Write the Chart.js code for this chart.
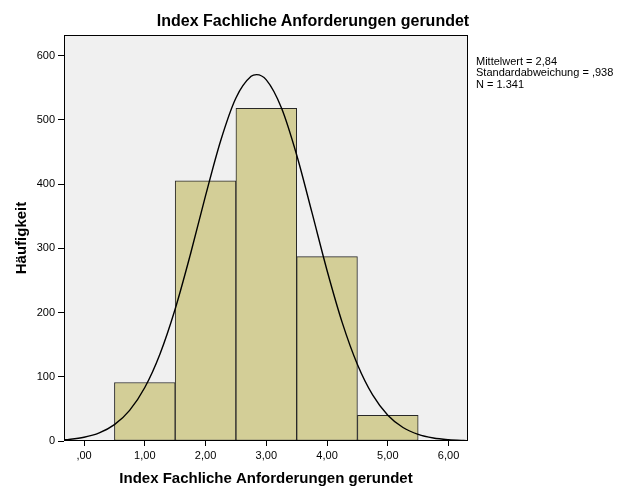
<!DOCTYPE html>
<html>
<head>
<meta charset="utf-8">
<script src="https://cdn.jsdelivr.net/npm/chart.js@4.4.1/dist/chart.umd.min.js"></script>
<style>
  html, body { margin: 0; padding: 0; background: #ffffff; }
  #wrap { position: relative; width: 626px; height: 501px; }
  #title { position: absolute; left: 0; top: 11px; width: 626px; text-align: center; font-family: 'Liberation Sans', Arial, sans-serif; font-size: 16px; font-weight: bold; line-height: 19px; color: #000; white-space: nowrap; }
  #stats { position: absolute; left: 476px; top: 56px; font-family: 'Liberation Sans', Arial, sans-serif; font-size: 11px; line-height: 11.4px; color: #000; white-space: nowrap; }
</style>
</head>
<body>
<div id="wrap">
  <canvas id="c" width="626" height="501"></canvas>
  <div id="title"></div>
  <div id="stats">Mittelwert = 2,84<br>Standardabweichung = ,938<br>N = 1.341</div>
</div>
<script>
// ---- data ----
const binCenters = [1, 2, 3, 4, 5];
const frequencies = [91, 405, 518, 287, 40];

const curveX = [-0.33, -0.25, 0, 0.25, 0.5, 0.75, 1.0, 1.25, 1.5, 1.75, 2.0, 2.25, 2.5, 2.75, 2.84,
                3.0, 3.25, 3.5, 3.75, 4.0, 4.25, 4.5, 4.75, 5.0, 5.25, 5.5, 5.75, 6.0, 6.25, 6.32];
const curveY = [1.9, 2.5, 5.8, 12.6, 25.4, 47.7, 83.3, 135.6, 205.6, 290.4, 381.9, 467.9, 534.0, 567.7, 570.3,
                562.1, 518.3, 445.2, 356.2, 265.5, 184.3, 119.1, 71.7, 40.2, 21.0, 10.2, 4.6, 2.0, 0.8, 0.6];

const xTickValues = [0, 1, 2, 3, 4, 5, 6];
const xTickLabels = [',00', '1,00', '2,00', '3,00', '4,00', '5,00', '6,00'];
const yTickValues = [0, 100, 200, 300, 400, 500, 600];

const titleText = 'Index Fachliche Anforderungen gerundet';
const xTitle = 'Index Fachliche Anforderungen gerundet';
const yTitle = 'Häufigkeit';

document.getElementById('title').textContent = titleText;

// ---- chart ----
const FONT = "'Liberation Sans', Arial, sans-serif";

const plotFrame = {
  id: 'plotFrame',
  beforeDatasetsDraw(chart) {
    const {ctx, chartArea: a} = chart;
    ctx.save();
    ctx.fillStyle = '#f0f0f0';
    ctx.fillRect(a.left, a.top, a.right - a.left, a.bottom - a.top);
    ctx.restore();
  },
  afterDatasetsDraw(chart) {
    const {ctx, chartArea: a} = chart;
    ctx.save();
    ctx.strokeStyle = '#000';
    ctx.lineWidth = 1;
    const l = Math.round(a.left) + 0.5, t = Math.round(a.top) + 0.5;
    const r = Math.round(a.right) - 0.5, b = Math.round(a.bottom) - 0.5;
    ctx.strokeRect(l, t, r - l, b - t);
    ctx.restore();
  }
};

new Chart(document.getElementById('c'), {
  data: {
    datasets: [
      {
        type: 'line',
        data: curveX.map((x, i) => ({x: x, y: curveY[i]})),
        borderColor: '#000',
        borderWidth: 1.4,
        pointRadius: 0,
        fill: false,
        cubicInterpolationMode: 'monotone'
      },
      {
        type: 'bar',
        data: binCenters.map((x, i) => ({x: x, y: frequencies[i]})),
        backgroundColor: 'rgb(211,206,151)',
        borderColor: 'rgb(40,40,40)',
        borderWidth: 1,
        borderSkipped: false,
        barPercentage: 1,
        categoryPercentage: 1
      }
    ]
  },
  options: {
    responsive: false,
    animation: false,
    layout: { padding: { left: 0, right: 158, top: 35, bottom: 0 } },
    plugins: {
      legend: { display: false },
      tooltip: { enabled: false },
      title: { display: false }
    },
    scales: {
      x: {
        type: 'linear',
        min: -0.33,
        max: 6.32,
        offset: false,
        afterFit(s) { s.height = 60; },
        afterBuildTicks(s) { s.ticks = xTickValues.map(v => ({value: v})); },
        ticks: {
          color: '#000',
          font: { family: FONT, size: 11 },
          padding: 3,
          maxRotation: 0,
          autoSkip: false,
          callback: (v) => xTickLabels[xTickValues.indexOf(v)]
        },
        grid: { display: true, offset: false, drawOnChartArea: false, tickLength: 5, color: '#000' },
        border: { display: false },
        title: {
          display: true,
          text: xTitle,
          color: '#000',
          font: { family: FONT, size: 15, weight: 'bold' },
          padding: { top: 0, bottom: 13 }
        }
      },
      y: {
        type: 'linear',
        min: 0,
        max: 632,
        afterFit(s) { s.width = 64; },
        afterBuildTicks(s) { s.ticks = yTickValues.map(v => ({value: v})); },
        ticks: {
          color: '#000',
          font: { family: FONT, size: 11 },
          padding: 3,
          autoSkip: false
        },
        grid: { display: true, drawOnChartArea: false, tickLength: 6, color: '#000' },
        border: { display: false },
        title: {
          display: true,
          text: yTitle,
          color: '#000',
          font: { family: FONT, size: 15, weight: 'bold' },
          padding: { top: 13, bottom: 0 }
        }
      }
    }
  },
  plugins: [plotFrame]
});
</script>
</body>
</html>
